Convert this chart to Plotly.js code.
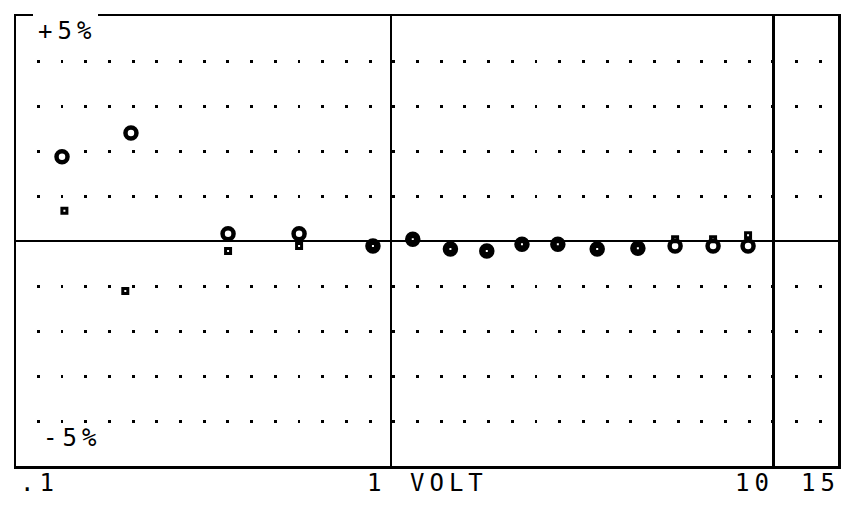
<!DOCTYPE html>
<html>
<head>
<meta charset="utf-8">
<script src="https://cdn.plot.ly/plotly-3.0.1.min.js"></script>
<style>
  html, body { margin: 0; padding: 0; background: #fff; }
  #chart { width: 851px; height: 508px; }
  svg text.annotation-text { letter-spacing: 5px; }
</style>
</head>
<body>
<div id="chart"></div>
<script>
// ---- data ----
var xCircle = [0.138, 0.209, 0.375, 0.575, 0.897, 1.14, 1.43, 1.78, 2.20, 2.73, 3.46, 4.42, 5.53, 6.95, 8.58];
var yCircle = [1.87, 2.40, 0.16, 0.16, -0.11, 0.04, -0.18, -0.22, -0.07, -0.07, -0.18, -0.16, -0.11, -0.11, -0.11];
var xSquare = [0.140, 0.202, 0.375, 0.575, 0.897, 1.14, 1.43, 1.78, 2.20, 2.73, 3.46, 4.42, 5.53, 6.95, 8.58];
var ySquare = [0.67, -1.11, -0.22, -0.11, -0.11, 0.04, -0.18, -0.22, -0.07, -0.07, -0.18, -0.16, 0.04, 0.04, 0.13];

var xTickVals = [0.1, 1, 10, 15];
var xTickText = ['.1', '1', '10', '15'];
var xTitle = 'VOLT';
var yTopLabel = '+5%';
var yBottomLabel = '-5%';
var yRowVals = [-4, -3, -2, -1, 1, 2, 3, 4];
var xDecadeLines = [1, 10];

// ---- layout constants ----
var FONT = 'DejaVu Sans Mono, Liberation Mono, monospace';
var XRANGE = [-0.9804, 1.1686];
var labelShift = [31, -15, -19, -20];

function paperX(v) { return (Math.log10(v) - XRANGE[0]) / (XRANGE[1] - XRANGE[0]); }

var traces = [
  {
    x: xCircle, y: yCircle, type: 'scatter', mode: 'markers',
    marker: { symbol: 'circle-open', size: 11, color: '#000', line: { width: 4.5, color: '#000' } },
    hoverinfo: 'x+y'
  },
  {
    x: xSquare, y: ySquare, type: 'scatter', mode: 'markers',
    marker: { symbol: 'square-open', size: 5, color: '#000', line: { width: 3, color: '#000' } },
    hoverinfo: 'x+y'
  }
];

var annotations = xTickVals.map(function (v, i) {
  return {
    x: paperX(v), xref: 'paper', y: -0.038, yref: 'paper',
    text: xTickText[i], showarrow: false, xanchor: 'center', yanchor: 'middle',
    xshift: labelShift[i], font: { family: FONT, size: 24, color: '#000' }
  };
});
annotations.push({
  x: (449 - 16) / 822, xref: 'paper', y: -0.038, yref: 'paper', text: xTitle,
  showarrow: false, xanchor: 'center', yanchor: 'middle',
  font: { family: FONT, size: 24, color: '#000' }
});
annotations.push({
  x: (36 - 16) / 822, xref: 'paper', y: (466 - 31) / 450, yref: 'paper', text: yTopLabel,
  showarrow: false, xanchor: 'left', yanchor: 'middle',
  font: { family: FONT, size: 24, color: '#000' }
});
annotations.push({
  x: (41 - 16) / 822, xref: 'paper', y: (466 - 438) / 450, yref: 'paper', text: yBottomLabel,
  showarrow: false, xanchor: 'left', yanchor: 'middle',
  font: { family: FONT, size: 24, color: '#000' }
});

var layout = {
  width: 851, height: 508,
  margin: { l: 16, r: 13, t: 16, b: 42, pad: 0 },
  paper_bgcolor: '#fff', plot_bgcolor: '#fff',
  showlegend: false,
  xaxis: {
    type: 'log', range: XRANGE,
    tickvals: xDecadeLines, showticklabels: false, ticks: '',
    showgrid: true, gridcolor: '#000', gridwidth: 2.5,
    zeroline: false,
    showline: true, mirror: true, linecolor: '#000', linewidth: 2.5
  },
  yaxis: {
    range: [-5, 5],
    tickvals: yRowVals, showticklabels: false, ticks: '',
    showgrid: true, gridcolor: '#000', gridwidth: 3, griddash: '0px,20.8px,2.9px,0px',
    zeroline: true, zerolinecolor: '#000', zerolinewidth: 2.5,
    showline: true, mirror: true, linecolor: '#000', linewidth: 2.5
  },
  shapes: [
    { type: 'rect', xref: 'paper', yref: 'paper', x0: (33 - 16) / 822, x1: (98 - 16) / 822,
      y0: 0.99, y1: 1.025, fillcolor: '#fff', line: { width: 0 }, layer: 'above' }
  ],
  annotations: annotations
};

Plotly.newPlot('chart', traces, layout, { displayModeBar: false, staticPlot: true });
</script>
</body>
</html>
